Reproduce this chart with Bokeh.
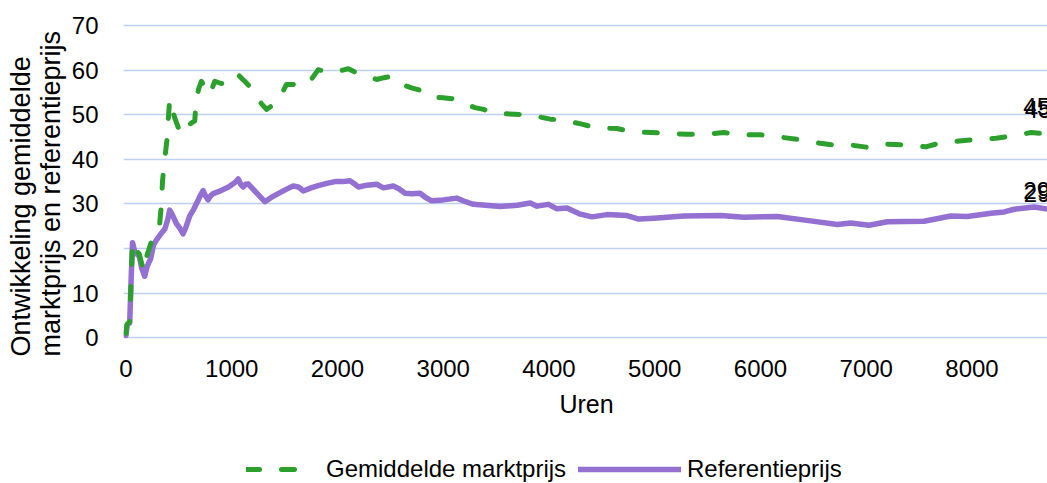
from bokeh.plotting import figure
from bokeh.layouts import column
from bokeh.models import Range1d, FixedTicker, Legend, LegendItem, ColumnDataSource, Title
from bokeh.core.properties import value
from bokeh.embed import file_html
from bokeh.resources import INLINE

# ---- data ----
hours_ref = [0, 10, 35, 50, 62, 80, 100, 125, 150, 177, 200, 234, 260, 290, 330, 366, 395, 413,
             440, 477, 510, 540, 570, 603, 640, 682, 705, 729, 752, 776, 800, 824, 880, 934,
             970, 1013, 1040, 1061, 1085, 1108, 1130, 1155, 1230, 1313, 1370, 1439, 1510, 1581,
             1630, 1676, 1750, 1818, 1900, 1976, 2050, 2118, 2160, 2197, 2280, 2371, 2434, 2528,
             2580, 2639, 2700, 2781, 2830, 2891, 3000, 3128, 3200, 3286, 3400, 3539, 3700, 3823,
             3886, 3996, 4075, 4170, 4297, 4407, 4549, 4738, 4848, 4991, 5275, 5622, 5843, 6158,
             6474, 6727, 6853, 7027, 7200, 7547, 7800, 7955, 8179, 8305, 8400, 8589, 8760]
referentieprijs = [0.5, 2.8, 3.3, 14.0, 21.3, 19.5, 18.8, 18.3, 15.5, 13.8, 16.0, 17.8, 20.8, 22.0,
                   23.3, 24.3, 26.5, 28.6, 27.5, 25.6, 24.5, 23.3, 25.0, 27.3, 28.8, 30.8, 32.0,
                   33.0, 31.8, 30.9, 31.8, 32.3, 32.8, 33.4, 33.8, 34.5, 35.0, 35.6, 34.4, 33.8,
                   34.4, 34.5, 32.6, 30.5, 31.4, 32.3, 33.2, 34.0, 33.8, 32.9, 33.6, 34.1, 34.6,
                   35.0, 35.0, 35.2, 34.5, 33.8, 34.2, 34.4, 33.6, 34.0, 33.4, 32.4, 32.3, 32.4,
                   31.5, 30.7, 30.9, 31.3, 30.6, 29.9, 29.7, 29.4, 29.7, 30.2, 29.5, 29.9, 28.9,
                   29.1, 27.7, 27.1, 27.6, 27.4, 26.6, 26.8, 27.3, 27.4, 27.0, 27.2, 26.2, 25.4,
                   25.7, 25.2, 26.0, 26.1, 27.3, 27.2, 27.9, 28.2, 28.8, 29.3, 28.7]

hours_markt = [0, 10, 35, 50, 62, 95, 125, 150, 177, 192, 240, 271, 300, 319, 335, 345, 366, 388,
               400, 413, 440, 461, 518, 571, 610, 650, 666, 690, 713, 750, 792, 815, 840, 900,
               950, 1000, 1029, 1060, 1100, 1140, 1219, 1280, 1329, 1380, 1439, 1480, 1518, 1580,
               1645, 1700, 1740, 1818, 1900, 1976, 2050, 2102, 2160, 2244, 2300, 2371, 2440,
               2512, 2607, 2700, 2796, 2891, 3000, 3081, 3207, 3300, 3381, 3507, 3600, 3681,
               3854, 3930, 4012, 4154, 4230, 4311, 4453, 4643, 4801, 4974, 5133, 5306, 5464,
               5653, 5811, 6001, 6174, 6348, 6506, 6695, 6853, 7042, 7200, 7386, 7563, 7720,
               7879, 8068, 8226, 8400, 8558, 8650, 8760]
marktprijs = [1.0, 3.0, 3.6, 14.0, 21.5, 19.6, 18.8, 16.5, 15.0, 18.0, 21.5, 23.4, 25.0, 25.6,
              30.0, 35.0, 40.0, 44.5, 49.0, 53.4, 51.0, 49.3, 45.6, 47.3, 48.0, 48.6, 53.8, 56.0,
              57.5, 56.0, 54.5, 56.0, 57.5, 57.0, 56.8, 57.8, 58.6, 59.0, 58.0, 57.1, 54.9, 52.5,
              51.2, 52.0, 53.1, 55.0, 56.8, 56.8, 56.4, 56.8, 57.5, 60.1, 59.6, 59.5, 60.0, 60.3,
              59.6, 59.0, 58.5, 57.9, 58.3, 58.6, 56.8, 56.0, 55.4, 53.9, 53.8, 53.6, 52.4, 51.6,
              51.2, 50.2, 50.2, 50.1, 49.9, 49.4, 49.0, 48.8, 48.3, 47.9, 47.0, 46.9, 46.1, 46.0,
              45.8, 45.6, 45.6, 46.0, 45.5, 45.5, 45.0, 44.5, 43.8, 43.2, 43.2, 42.6, 43.4, 43.2,
              42.8, 43.8, 44.1, 44.5, 44.7, 45.3, 46.0, 45.8, 45.4]

x_ticks = [0, 1000, 2000, 3000, 4000, 5000, 6000, 7000, 8000]
y_ticks = [0, 10, 20, 30, 40, 50, 60, 70]
series_names = ["Gemiddelde marktprijs", "Referentieprijs"]
x_title = "Uren"
y_title = "Ontwikkeling gemiddelde\nmarktprijs en referentieprijs"

GREEN = "#2ca02c"
PURPLE = "#9370d2"
FONT = "Liberation Sans"
GREEN_STYLE = dict(line_color=GREEN, line_width=5, line_dash="13 22", line_cap="round", line_join="round")
PURPLE_STYLE = dict(line_color=PURPLE, line_width=5.5, line_cap="round", line_join="round")

# ---------------- main chart ----------------
p = figure(frame_width=926, frame_height=316, output_backend="svg", toolbar_location=None,
           x_range=Range1d(-23.6, 8733), y_range=Range1d(-0.4, 70.45),
           min_border_left=121, min_border_right=0, min_border_top=23, min_border_bottom=100)
p.outline_line_color = None
p.background_fill_color = "white"
p.border_fill_color = "white"

p.xgrid.visible = False
p.ygrid.grid_line_color = "#bdd0f3"
p.ygrid.grid_line_width = 1.5
p.xaxis.ticker = FixedTicker(ticks=x_ticks)
p.yaxis.ticker = FixedTicker(ticks=y_ticks)

for ax in (p.xaxis[0], p.yaxis[0]):
    ax.axis_line_color = None
    ax.major_tick_line_color = None
    ax.minor_tick_line_color = None
    ax.major_label_text_font = FONT
    ax.major_label_text_font_size = "24px"
    ax.major_label_text_color = "black"
    ax.axis_label_text_font = FONT
    ax.axis_label_text_font_style = "normal"
    ax.axis_label_text_color = "black"

p.xaxis.axis_label = x_title
p.xaxis.axis_label_text_font_size = "25px"
p.xaxis.major_label_standoff = 14
p.xaxis.axis_label_standoff = 10
p.yaxis.major_label_standoff = 19

ytitle = Title(text=y_title, align="left", offset=-17, standoff=6,
               text_font=FONT, text_font_size="27px", text_font_style="normal",
               text_color="black", text_line_height=1.0)
p.add_layout(ytitle, "left")

p.line(hours_ref, referentieprijs, **PURPLE_STYLE)
p.line(hours_markt, marktprijs, **GREEN_STYLE)

# end-of-line data labels (each drawn twice, as in the reference)
lab = ColumnDataSource(dict(
    x=[hours_markt[-1], hours_markt[-1], hours_ref[-1], hours_ref[-1]],
    y=[marktprijs[-1], marktprijs[-1], referentieprijs[-1], referentieprijs[-1]],
    t=[str(round(marktprijs[-1]))] * 2 + [str(round(referentieprijs[-1]))] * 2,
    xo=[-29, -27.5, -29, -28.5],
    yo=[-29, -26, -19, -16.5],
))
p.text(x="x", y="y", text="t", x_offset="xo", y_offset="yo", source=lab,
       text_font=value(FONT), text_font_size="24px", text_color="black",
       text_align="left", text_baseline="alphabetic")

# ---------------- legend strip ----------------
# The series are re-drawn here only so that the legend has renderers; the ranges keep them off-frame.
q = figure(width=1047, height=44, output_backend="svg", toolbar_location=None,
           x_axis_type=None, y_axis_type=None, min_border=0,
           x_range=Range1d(0, 1), y_range=Range1d(-20, -19))
q.outline_line_color = None
q.xgrid.visible = False
q.ygrid.visible = False
lg = q.line(hours_markt, marktprijs, **GREEN_STYLE)
lp = q.line(hours_ref, referentieprijs, **PURPLE_STYLE)

common = dict(orientation="horizontal", glyph_height=26, label_height=26, padding=0, margin=0,
              border_line_color=None, background_fill_alpha=0, spacing=0,
              label_text_font=FONT, label_text_font_size="24px", label_text_color="black")
q.add_layout(Legend(items=[LegendItem(label=series_names[0], renderers=[lg])],
                    location=(123, 0), glyph_width=68, label_standoff=12, **common))
q.add_layout(Legend(items=[LegendItem(label=series_names[1], renderers=[lp])],
                    location=(455, 0), glyph_width=103, label_standoff=6, **common))

layout = column(p, q, spacing=0)
open("out.html", "w").write(file_html(layout, INLINE))
